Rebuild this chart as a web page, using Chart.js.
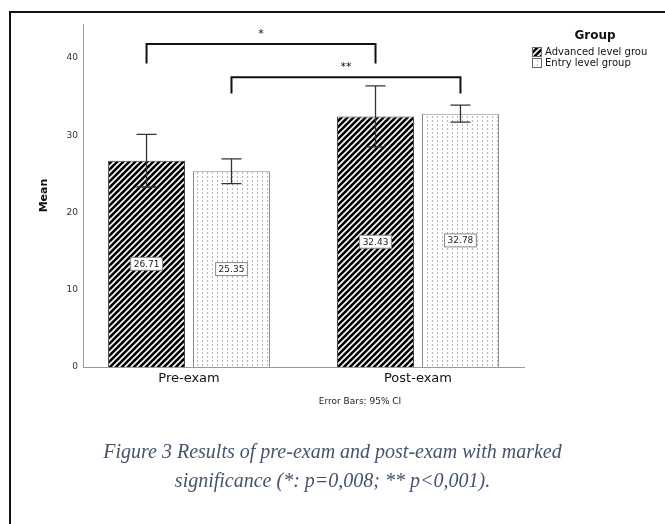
<!DOCTYPE html>
<html>
<head>
<meta charset="utf-8">
<script src="https://cdn.jsdelivr.net/npm/chart.js@4"></script>
<style>
  body { margin: 0; background: #fff; }
  #wrap { position: relative; width: 665px; height: 524px; overflow: hidden; }
  #frame { position: absolute; left: 9px; top: 11px; right: -5px; bottom: -5px;
           border-top: 2px solid #111; border-left: 2px solid #111; }
  canvas { position: absolute; left: 0; top: 0; }
  #note { position: absolute; left: 260px; width: 200px; top: 396px; text-align: center;
          font: 9px "DejaVu Sans", sans-serif; color: #222; }
  #caption { position: absolute; left: 0; width: 665px; top: 437px; text-align: center;
             font: italic 20px "Liberation Serif", serif; color: #44546A; line-height: 29px; }
</style>
</head>
<body>
<div id="wrap">
  <div id="frame"></div>
  <canvas id="chart" width="665" height="524"></canvas>
  <div id="note">Error Bars: 95% CI</div>
  <div id="caption">Figure 3 Results of pre-exam and post-exam with marked<br>significance (*: p=0,008; ** p&lt;0,001).</div>
</div>
<script>
// values
const categories = ['Pre-exam', 'Post-exam'];
const seriesNames = ['Advanced level grou', 'Entry level group'];
const advancedMeans = [26.71, 32.43];
const entryMeans = [25.35, 32.78];
const advancedLow = [23.3, 28.5];
const advancedHigh = [30.1, 36.4];
const entryLow = [23.75, 31.7];
const entryHigh = [26.95, 33.9];
const yTicks = [0, 10, 20, 30, 40];

Chart.defaults.font.family = '"DejaVu Sans", sans-serif';

function hatchPattern() {
    let c = document.createElement('canvas');
    c.width = 6; c.height = 6;
    let g = c.getContext('2d');
    g.fillStyle = '#000';
    g.fillRect(0, 0, 6, 6);
    g.strokeStyle = '#fff';
    g.lineWidth = 1.6;
    g.beginPath();
    g.moveTo(0, 6); g.lineTo(6, 0);
    g.moveTo(-3, 3); g.lineTo(3, -3);
    g.moveTo(3, 9); g.lineTo(9, 3);
    g.stroke();
    return g.createPattern(c, 'repeat');
}

function dotPattern() {
    let c = document.createElement('canvas');
    c.width = 5; c.height = 4;
    let g = c.getContext('2d');
    g.fillStyle = '#fff';
    g.fillRect(0, 0, 5, 4);
    g.fillStyle = '#b4b4b4';
    g.fillRect(2, 0, 1, 2);
    return g.createPattern(c, 'repeat');
}

// significance brackets: [dataset, index] ends, height in value units
const brackets = [
    { from: [0, 0], to: [0, 1], top: 41.8, end: 39.3, text: '*' },
    { from: [1, 0], to: [1, 1], top: 37.5, end: 35.4, text: '**' },
];

const extras = {
    id: 'extras',
    afterDatasetsDraw(chart) {
        const ctx = chart.ctx;
        const y = chart.scales.y;
        chart.data.datasets.forEach((ds, di) => {
            chart.getDatasetMeta(di).data.forEach((bar, i) => {
                // error bar
                let top = y.getPixelForValue(ds.high[i]);
                let bot = y.getPixelForValue(ds.low[i]);
                ctx.save();
                ctx.strokeStyle = '#333';
                ctx.lineWidth = 1.3;
                ctx.beginPath();
                ctx.moveTo(bar.x, top); ctx.lineTo(bar.x, bot);
                ctx.moveTo(bar.x - 10, top); ctx.lineTo(bar.x + 10, top);
                ctx.moveTo(bar.x - 10, bot); ctx.lineTo(bar.x + 10, bot);
                ctx.stroke();
                // value label in the middle of the bar
                let v = ds.data[i].y;
                let ly = y.getPixelForValue(v / 2);
                let t = v.toFixed(2);
                ctx.font = '9px "DejaVu Sans"';
                let w = ctx.measureText(t).width + 6;
                ctx.fillStyle = '#fff';
                ctx.fillRect(bar.x - w / 2, ly - 6.5, w, 13);
                ctx.strokeStyle = '#888';
                ctx.lineWidth = 1;
                ctx.strokeRect(bar.x - w / 2, ly - 6.5, w, 13);
                ctx.fillStyle = '#222';
                ctx.textAlign = 'center';
                ctx.textBaseline = 'middle';
                ctx.fillText(t, bar.x, ly + 0.5);
                ctx.restore();
            });
        });

        // brackets
        ctx.save();
        ctx.strokeStyle = '#111';
        ctx.lineWidth = 2;
        ctx.fillStyle = '#111';
        ctx.font = '11px "DejaVu Sans"';
        ctx.textAlign = 'center';
        ctx.textBaseline = 'middle';
        brackets.forEach(b => {
            let x1 = chart.getDatasetMeta(b.from[0]).data[b.from[1]].x;
            let x2 = chart.getDatasetMeta(b.to[0]).data[b.to[1]].x;
            let yt = y.getPixelForValue(b.top);
            let ye = y.getPixelForValue(b.end);
            ctx.beginPath();
            ctx.moveTo(x1, ye); ctx.lineTo(x1, yt); ctx.lineTo(x2, yt); ctx.lineTo(x2, ye);
            ctx.stroke();
            ctx.fillText(b.text, (x1 + x2) / 2, yt - 10);
        });
        ctx.restore();

        // legend
        ctx.save();
        ctx.fillStyle = '#111';
        ctx.font = 'bold 12px "DejaVu Sans"';
        ctx.textAlign = 'center';
        ctx.textBaseline = 'middle';
        ctx.fillText('Group', 595, 36);
        ctx.font = '10px "DejaVu Sans"';
        ctx.textAlign = 'left';
        chart.data.datasets.forEach((ds, di) => {
            let ly = 52 + di * 11;
            ctx.fillStyle = ds.backgroundColor;
            ctx.fillRect(532, ly - 4.5, 10, 9);
            ctx.strokeStyle = '#666';
            ctx.lineWidth = 1;
            ctx.strokeRect(532.5, ly - 4.5, 9, 9);
            ctx.fillStyle = '#111';
            ctx.fillText(ds.label, 545, ly);
        });
        ctx.restore();
    },
};

const chart = new Chart(document.getElementById('chart'), {
    type: 'bar',
    data: {
        datasets: [
            {
                label: seriesNames[0],
                data: advancedMeans.map((v, i) => ({ x: i, y: v })),
                low: advancedLow,
                high: advancedHigh,
                backgroundColor: hatchPattern(),
                borderColor: '#444',
                borderWidth: 1,
            },
            {
                label: seriesNames[1],
                data: entryMeans.map((v, i) => ({ x: i, y: v })),
                low: entryLow,
                high: entryHigh,
                backgroundColor: dotPattern(),
                borderColor: '#888',
                borderWidth: 1,
            },
        ],
    },
    options: {
        responsive: false,
        animation: false,
        devicePixelRatio: 1,
        categoryPercentage: 0.742,
        barPercentage: 0.906,
        layout: { padding: { left: 34, top: 24, right: 141, bottom: 127 } },
        scales: {
            x: {
                type: 'linear',
                offset: false,
                min: -0.463,
                max: 1.463,
                grid: { display: false, drawTicks: false },
                border: { color: '#999' },
                afterBuildTicks: s => { s.ticks = categories.map((c, i) => ({ value: i })); },
                afterFit: s => { s.height = 30; },
                ticks: {
                    callback: (v, i) => categories[i],
                    font: { size: 13 },
                    color: '#111',
                    padding: 4,
                    autoSkip: false,
                    maxRotation: 0,
                },
            },
            y: {
                min: 0,
                max: 44.4,
                grid: { display: false, drawTicks: false },
                border: { color: '#999' },
                afterBuildTicks: s => { s.ticks = yTicks.map(v => ({ value: v })); },
                afterFit: s => { s.width = 49; },
                ticks: { font: { size: 9 }, color: '#333', padding: 5 },
                title: { display: true, text: 'Mean', font: { size: 11, weight: 'bold' }, color: '#111' },
            },
        },
        plugins: {
            legend: { display: false },
            tooltip: { enabled: false },
        },
    },
    plugins: [extras],
});
</script>
</body>
</html>
